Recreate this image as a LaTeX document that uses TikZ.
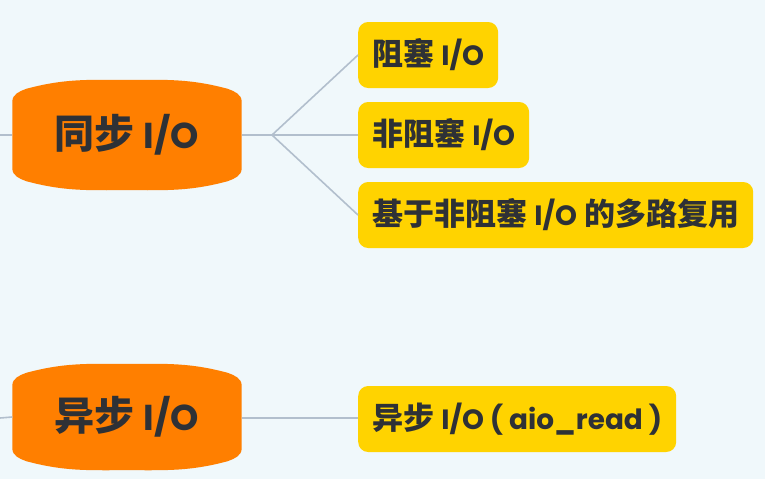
\documentclass[tikz,border=0pt]{standalone}
\usepackage{fontspec}
\newfontfamily\cjk{Noto Sans CJK SC}
\newfontfamily\latfont{Poppins}[Scale=0.9]
\usepackage{tikz}
\usetikzlibrary{calc,positioning}

\definecolor{bgC}{RGB}{240,248,251}
\definecolor{orangeC}{RGB}{255,127,0}
\definecolor{yellowC}{RGB}{255,211,0}
\definecolor{inkC}{RGB}{46,49,54}
\definecolor{linkC}{RGB}{178,191,205}

\newcommand{\ltn}[1]{{\latfont\bfseries #1}}

\pgfdeclarelayer{back}
\pgfdeclarelayer{shape}
\pgfsetlayers{back,shape,main}

% bulged box drawn behind a node
\newcommand{\bulgebox}[1]{%
  \begin{pgfonlayer}{shape}
  \fill [orangeC] ([yshift=-13pt]#1.north west)
    to[out=90,in=200] ([xshift=14pt]#1.north west)
    to[out=15,in=180] ([yshift=9pt]#1.north)
    to[out=0,in=165] ([xshift=-14pt]#1.north east)
    to[out=-20,in=90] ([yshift=-13pt]#1.north east)
    -- ([yshift=13pt]#1.south east)
    to[out=-90,in=20] ([xshift=-14pt]#1.south east)
    to[out=195,in=0] ([yshift=-9pt]#1.south)
    to[out=180,in=-15] ([xshift=14pt]#1.south west)
    to[out=160,in=-90] ([yshift=13pt]#1.south west) -- cycle ;
  \end{pgfonlayer}}

\tikzset{
  mode/.style={minimum width=229pt,inner sep=0pt,text=inkC,
               font=\cjk\bfseries\fontsize{40}{40}\selectfont},
  leaf/.style={fill=yellowC,rounded corners=10pt,anchor=west,inner xsep=14pt,
               inner ysep=0pt,minimum height=66pt,text=inkC,
               font=\cjk\bfseries\fontsize{31}{31}\selectfont},
  link/.style={draw=linkC,line width=1.6pt},
}

\begin{document}
\begin{tikzpicture}[x=1pt,y=-1pt]
  \begin{pgfonlayer}{back}
  \fill [bgC] (0,0) rectangle (765,479) ;
  \end{pgfonlayer}
  \useasboundingbox (0,0) rectangle (765,479) ;
%
  \node [mode,minimum height=92pt] (sync) at (127,135) {同步 \ltn{I/O}} ;
  \node [mode,minimum height=88pt] (async) at (127,417) {异步 \ltn{I/O}} ;
  \bulgebox{sync}
  \bulgebox{async}
%
  \node [leaf] (blk)   at (358,55)  {阻塞 \ltn{I/O}} ;
  \node [leaf] (nblk)  at (358,135) {非阻塞 \ltn{I/O}} ;
  \node [leaf] (mplex) at (358,215) {基于非阻塞 \ltn{I/O} 的多路复用} ;
  \node [leaf] (aio)   at (358,419) {异步 \ltn{I/O ( aio\_read )}} ;
%
  \coordinate (insync)  at (0,135) ;
  \coordinate (inasync) at (0,418) ;
  \coordinate (fork)    at (272,135) ;
%
  \draw [link] (insync) -- (sync.west) ;
  \draw [link] (sync.east) -- (fork) ;
  \draw [link] (fork) -- (blk.west) ;
  \draw [link] (fork) -- (nblk.west) ;
  \draw [link] (fork) -- (mplex.west) ;
%
  \draw [link] (inasync) -- (async.west) ;
  \draw [link] (async.east |- inasync) -- (aio.west |- inasync) ;
\end{tikzpicture}
\end{document}
